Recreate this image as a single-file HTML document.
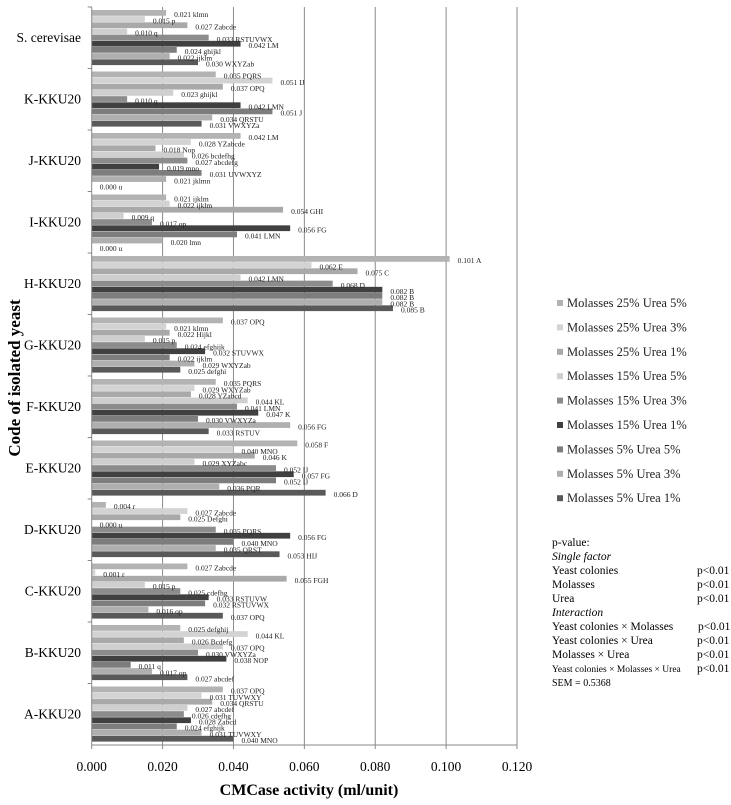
<!DOCTYPE html>
<html><head><meta charset="utf-8"><style>
body{margin:0;background:#fff;width:731px;height:805px;overflow:hidden;font-family:"Liberation Serif",serif;}
svg{position:absolute;left:0;top:0}
</style></head><body>
<svg id="chart" width="731" height="805" viewBox="0 0 731 805">
<g id="grid"></g>
<g id="bars"></g>
<g id="labels"></g>
<g id="axes"></g>
<g id="legend"></g>
<text x="309" y="795" text-anchor="middle" font-size="16" font-weight="bold">CMCase activity (ml/unit)</text>
<text transform="translate(20,378) rotate(-90)" text-anchor="middle" font-size="17" font-weight="bold">Code of isolated yeast</text>
<g font-size="11.5">
<text x="552" y="546">p-value:</text>
<text x="552" y="560" font-style="italic">Single factor</text>
<text x="552" y="574">Yeast colonies</text><text x="697" y="574">p&lt;0.01</text>
<text x="552" y="588">Molasses</text><text x="697" y="588">p&lt;0.01</text>
<text x="552" y="602">Urea</text><text x="697" y="602">p&lt;0.01</text>
<text x="552" y="616" font-style="italic">Interaction</text>
<text x="552" y="630">Yeast colonies  × Molasses</text><text x="698" y="630">p&lt;0.01</text>
<text x="552" y="644">Yeast colonies  × Urea</text><text x="697" y="644">p&lt;0.01</text>
<text x="552" y="658">Molasses × Urea</text><text x="697" y="658">p&lt;0.01</text>
<text x="552" y="672" font-size="9.5">Yeast colonies  × Molasses × Urea</text><text x="697" y="672">p&lt;0.01</text>
<text x="552" y="686" font-size="10">SEM = 0.5368</text>
</g>
</svg>
<script>
const categories=["S. cerevisae","K-KKU20","J-KKU20","I-KKU20","H-KKU20","G-KKU20","F-KKU20","E-KKU20","D-KKU20","C-KKU20","B-KKU20","A-KKU20"];
const seriesNames=["Molasses 25% Urea 5%","Molasses 25% Urea 3%","Molasses 25% Urea 1%","Molasses 15% Urea 5%","Molasses 15% Urea 3%","Molasses 15% Urea 1%","Molasses 5% Urea 5%","Molasses 5% Urea 3%","Molasses 5% Urea 1%"];
const valuesS=[0.021,0.015,0.027,0.010,0.033,0.042,0.024,0.022,0.030];
const valuesK=[0.035,0.051,0.037,0.023,0.010,0.042,0.051,0.034,0.031];
const valuesJ=[0.042,0.028,0.018,0.026,0.027,0.019,0.031,0.021,0.000];
const valuesI=[0.021,0.022,0.054,0.009,0.017,0.056,0.041,0.020,0.000];
const valuesH=[0.101,0.062,0.075,0.042,0.068,0.082,0.082,0.082,0.085];
const valuesG=[0.037,0.021,0.022,0.015,0.024,0.032,0.022,0.029,0.025];
const valuesF=[0.035,0.029,0.028,0.044,0.041,0.047,0.030,0.056,0.033];
const valuesE=[0.058,0.040,0.046,0.029,0.052,0.057,0.052,0.036,0.066];
const valuesD=[0.004,0.027,0.025,0.000,0.035,0.056,0.040,0.035,0.053];
const valuesC=[0.027,0.001,0.055,0.015,0.025,0.033,0.032,0.016,0.037];
const valuesB=[0.025,0.044,0.026,0.037,0.030,0.038,0.011,0.017,0.027];
const valuesA=[0.037,0.031,0.034,0.027,0.026,0.028,0.024,0.031,0.040];
const lettersS=["klmn","p","Zabcde","q","RSTUVWX","LM","ghijkl","ijklm","WXYZab"];
const lettersK=["PQRS","IJ","OPQ","ghijkl","q","LMN","J","QRSTU","VWXYZa"];
const lettersJ=["LM","YZabcde","Nop","bcdefhg","abcdefg","mno","UVWXYZ","jklmn","u"];
const lettersI=["ijklm","ijklm","GHI","q","op","FG","LMN","lmn","u"];
const lettersH=["A","E","C","LMN","D","B","B","B","B"];
const lettersG=["OPQ","klmn","Hijkl","p","efghijk","STUVWX","ijklm","WXYZab","defghi"];
const lettersF=["PQRS","WXYZab","YZabcd","KL","LMN","K","VWXYZa","FG","RSTUV"];
const lettersE=["F","MNO","K","XYZabc","IJ","FG","IJ","PQR","D"];
const lettersD=["r","Zabcde","Defghi","u","PQRS","FG","MNO","QRST","HIJ"];
const lettersC=["Zabcde","r","FGH","p","cdefhg","RSTUVW","RSTUVWX","op","OPQ"];
const lettersB=["defghij","KL","Bcdefg","OPQ","VWXYZa","NOP","q","op","abcdef"];
const lettersA=["OPQ","TUVWXY","QRSTU","abcdef","cdefhg","Zabcd","efghijk","TUVWXY","MNO"];
const xTicks=[0,0.02,0.04,0.06,0.08,0.1,0.12];
const xTickLabels=["0.000","0.020","0.040","0.060","0.080","0.100","0.120"];
const allValues=[valuesS,valuesK,valuesJ,valuesI,valuesH,valuesG,valuesF,valuesE,valuesD,valuesC,valuesB,valuesA];
const allLetters=[lettersS,lettersK,lettersJ,lettersI,lettersH,lettersG,lettersF,lettersE,lettersD,lettersC,lettersB,lettersA];
const colors=["#b3b3b3","#d3d3d3","#a9a9a9","#cfcfcf","#8c8c8c","#404040","#7d7d7d","#afafaf","#595959"];
const NS="http://www.w3.org/2000/svg";
const X0=91.7,X1=517,TOP=7,BOT=745;
const xs=v=>X0+(v/0.12)*(X1-X0);
const gH=(BOT-TOP)/categories.length;
const bandY=i=>TOP+i*gH;
function mk(tag,attrs,parent,txt){const e=document.createElementNS(NS,tag);for(const k in attrs)e.setAttribute(k,attrs[k]);if(txt!==undefined)e.textContent=txt;parent.appendChild(e);return e;}
const grid=document.getElementById('grid'),axes=document.getElementById('axes'),barsG=document.getElementById('bars'),labG=document.getElementById('labels'),leg=document.getElementById('legend');
xTicks.forEach((t,i)=>{
  if(i>0){const l=mk('line',{x1:xs(t),x2:xs(t),y1:TOP,y2:BOT,stroke:'#8a8a8a','stroke-width':1},grid);
  
  }
  const tk=mk('line',{x1:xs(t),x2:xs(t),y1:BOT,y2:BOT+4,stroke:'#888'},axes);
  const tx=mk('text',{x:xs(t),y:771,'text-anchor':'middle','font-size':13.5},axes,xTickLabels[i]);
  
  
});
mk('line',{x1:X0,x2:X1,y1:BOT,y2:BOT,stroke:'#888'},axes);
mk('line',{x1:X0,x2:X0,y1:TOP,y2:BOT,stroke:'#888'},axes);
const bp=(gH-6)/9;
categories.forEach((c,i)=>{
  mk('line',{x1:X0-4,x2:X0,y1:bandY(i),y2:bandY(i),stroke:'#888'},axes);
  const ct=mk('text',{x:81,y:bandY(i)+gH/2+4,'text-anchor':'end','font-size':13.5},axes,c);
  
  
  allValues[i].forEach((v,j)=>{
    const y=bandY(i)+3+j*bp;
    const r=mk('rect',{x:X0,y:y,width:Math.max(0,xs(v)-X0),height:bp-0.4,fill:colors[j]},barsG);
    
    
    const t=mk('text',{x:xs(v)+8,y:y+bp+1,'font-size':7.5,fill:'#222'},labG,v.toFixed(3)+' '+allLetters[i][j]);
    
    
  });
});
seriesNames.forEach((n,j)=>{
  const y=307+j*24.4;
  const g=mk('g',{},leg);
  
  
  mk('rect',{x:557,y:y-7,width:6,height:6,fill:colors[j]},g);
  mk('text',{x:567,y:y,'font-size':12.5,fill:'#222'},g,n);
});
</script>
</body></html>
